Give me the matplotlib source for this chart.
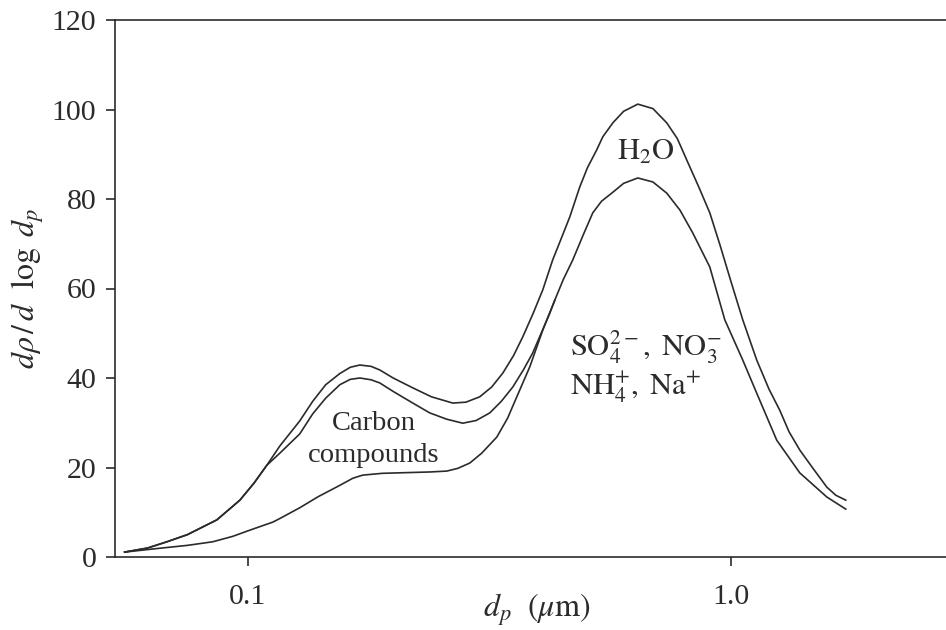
import matplotlib
matplotlib.use("Agg")
import matplotlib.pyplot as plt

plt.rcParams['font.family'] = ['Liberation Serif', 'DejaVu Serif']
plt.rcParams['mathtext.fontset'] = 'stix'

# Total (ions + carbon + water)
d_total = [0.0556, 0.062, 0.068, 0.075, 0.0863, 0.0963, 0.103, 0.1095, 0.1165, 0.1281,
           0.1363, 0.145, 0.1551, 0.163, 0.1706, 0.18, 0.1876, 0.20, 0.2196, 0.24,
           0.2657, 0.283, 0.3022, 0.32, 0.3373, 0.355, 0.3710, 0.39, 0.4081, 0.4279,
           0.445, 0.4642, 0.4868, 0.505, 0.5279, 0.5433, 0.5698, 0.60, 0.642, 0.69,
           0.7371, 0.775, 0.8108, 0.86, 0.9049, 0.95, 1.0, 1.0588, 1.1318, 1.20,
           1.263, 1.32, 1.3895, 1.48, 1.581, 1.65, 1.73]
v_total = [1.1, 2.0, 3.4, 5.0, 8.3, 12.7, 16.5, 20.5, 24.8, 30.4,
           34.8, 38.5, 41.0, 42.4, 42.9, 42.6, 41.8, 40.0, 37.8, 35.8,
           34.4, 34.6, 35.8, 38.0, 41.1, 45.0, 49.2, 54.5, 59.7, 66.4,
           71.0, 76.0, 82.7, 87.0, 91.0, 93.9, 97.0, 99.6, 101.2, 100.2,
           97.0, 93.5, 88.7, 82.5, 76.9, 69.7, 61.7, 53.0, 44.0, 37.5,
           32.8, 28.0, 23.9, 19.8, 15.6, 13.8, 12.7]

# Ions + carbon compounds (merges with the ions curve above ~0.43 um)
d_carbon = [0.0556, 0.062, 0.068, 0.075, 0.0863, 0.0963, 0.103, 0.1095, 0.1165, 0.1281,
            0.1363, 0.145, 0.1551, 0.163, 0.1706, 0.18, 0.1876, 0.20, 0.2196, 0.2381,
            0.258, 0.2787, 0.297, 0.3170, 0.335, 0.3538, 0.372, 0.389, 0.405, 0.4220,
            0.4322]
v_carbon = [1.1, 2.0, 3.4, 5.0, 8.3, 12.7, 16.5, 20.5, 23.2, 27.5,
            32.0, 35.5, 38.5, 39.7, 40.0, 39.6, 38.9, 37.0, 34.4, 32.2,
            30.8, 29.9, 30.5, 32.2, 34.8, 38.0, 41.8, 45.6, 50.0, 54.5,
            57.4]

# Ions (SO4, NO3, NH4, Na)
d_ions = [0.0556, 0.065, 0.075, 0.0846, 0.093, 0.101, 0.1127, 0.1165, 0.1281, 0.14,
          0.155, 0.165, 0.173, 0.19, 0.2381, 0.2582, 0.272, 0.2882, 0.305, 0.3278,
          0.345, 0.3606, 0.3836, 0.4081, 0.4322, 0.45, 0.4709, 0.495, 0.5179, 0.54,
          0.5698, 0.60, 0.642, 0.69, 0.7371, 0.785, 0.8344, 0.9049, 0.94, 0.9719,
          1.0588, 1.1318, 1.245, 1.3895, 1.581, 1.73]
v_ions = [1.1, 1.9, 2.6, 3.4, 4.6, 6.0, 7.8, 8.6, 11.0, 13.5,
          16.0, 17.6, 18.3, 18.7, 19.0, 19.2, 19.8, 21.0, 23.2, 26.8,
          31.0, 35.8, 42.5, 50.7, 57.4, 62.0, 66.4, 72.0, 76.9, 79.5,
          81.5, 83.5, 84.7, 83.8, 81.3, 77.5, 72.4, 64.8, 58.5, 53.0,
          44.0, 36.6, 26.1, 18.8, 13.4, 10.7]

xticks = [0.1, 1.0]
xtick_labels = ["0.1", "1.0"]
yticks = [0, 20, 40, 60, 80, 100, 120]

ink = '#2b2b2b'
fig = plt.figure(figsize=(9.46, 6.30), dpi=100)
ax = fig.add_axes([115/946, 1 - 557/630, 1 - 115/946, (557 - 20)/630])

for d, v in [(d_total, v_total), (d_carbon, v_carbon), (d_ions, v_ions)]:
    ax.plot(d, v, color=ink, lw=1.2, solid_joinstyle='round')

ax.set_xscale('log')
ax.set_xlim(0.0531, 2.79)
ax.set_ylim(0, 120)
ax.set_xticks(xticks)
ax.set_xticklabels(xtick_labels)
ax.xaxis.set_minor_locator(matplotlib.ticker.NullLocator())
ax.set_yticks(yticks)

for s in ['left', 'bottom', 'top']:
    ax.spines[s].set_color(ink)
    ax.spines[s].set_linewidth(1.2)
ax.spines['right'].set_visible(False)

ax.tick_params(axis='both', direction='out', length=6.5, width=1.2, color=ink,
               labelsize=21.5, labelcolor=ink)
ax.tick_params(axis='x', pad=13)
ax.tick_params(axis='y', pad=7)

ax.set_xlabel(r'$d_p\ \ (\mu\mathrm{m})$', fontsize=23, color=ink)
ax.xaxis.set_label_coords(0.508, -0.112)
ax.xaxis.label.set_va('baseline')
ax.set_ylabel(r'$d\rho\,/\,d\ \ \log\ d_p$', fontsize=23, color=ink, labelpad=4)

ax.text(0.5814, 88.7, r'$\mathrm{H_2O}$', fontsize=22, color=ink, ha='left', va='baseline')
ax.text(0.182, 28.4, 'Carbon', fontsize=20.5, color=ink, ha='center', va='baseline')
ax.text(0.182, 21.2, 'compounds', fontsize=20.5, color=ink, ha='center', va='baseline')
ax.text(0.464, 45.1, r'$\mathrm{SO_4^{2-},\ NO_3^{-}}$', fontsize=22, color=ink,
        ha='left', va='baseline')
ax.text(0.464, 36.2, r'$\mathrm{NH_4^{+},\ Na^{+}}$', fontsize=22, color=ink,
        ha='left', va='baseline')

fig.savefig('out.png', dpi=100)
